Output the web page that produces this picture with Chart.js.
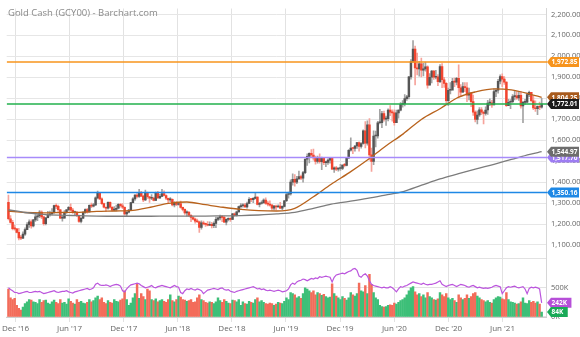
<!DOCTYPE html>
<html>
<head>
<meta charset="utf-8">
<script src="https://cdn.jsdelivr.net/npm/chart.js@4.4.0/dist/chart.umd.min.js"></script>
<style>
  html, body { margin: 0; padding: 0; background: #fff; }
  #wrap { position: relative; width: 580px; height: 337px; }
</style>
</head>
<body>
<div id="wrap"><canvas id="goldChart" width="580" height="337"></canvas></div>
<script>
// ---- data (weekly bars, Monday of each week) ----
const firstWeek = '2016-11-07';
const axisStart = '2016-11-01';
const axisEnd = '2021-10-29';

const tickDates = ['2016-12-01', '2017-06-01', '2017-12-01', '2018-06-01', '2018-12-01',
    '2019-06-01', '2019-12-01', '2020-06-01', '2020-12-01', '2021-06-01'];
const tickLabels = ["Dec '16", "Jun '17", "Dec '17", "Jun '18", "Dec '18",
    "Jun '19", "Dec '19", "Jun '20", "Dec '20", "Jun '21"];
const priceTicks = [1100, 1200, 1300, 1400, 1500, 1600, 1700, 1800, 1900, 2000, 2100, 2200];
const volumeTicks = [0, 500, 1000];

const weekClose = [
    1225,1208,1178,1177,1160,1134,1133,1152,
    1173,1197,1210,1191,1220,1234,1239,1257,1234,1202,1230,1244,1249,
    1254,1288,1284,1268,1228,1228,1254,1268,1280,1266,1254,1256,1242,
    1212,1228,1255,1269,1258,1289,1285,1291,1325,1346,1320,1297,1280,
    1275,1304,1280,1266,1270,1275,1294,1287,1280,1248,1256,1266,1302,
    1320,1338,1332,1350,1333,1315,1347,1330,1323,1324,1313,1347,1325,
    1332,1345,1336,1323,1315,1318,1291,1301,1293,1298,1279,1270,1253,
    1256,1241,1231,1223,1214,1211,1184,1206,1201,1198,1194,1199,1192,
    1203,1222,1229,1235,1232,1209,1222,1223,1222,1248,1241,1258,1283,1287,
    1290,1282,1298,1318,1316,1322,1329,1294,1298,1302,1314,1298,
    1295,1290,1276,1286,1281,1286,1276,1284,1311,1341,1344,1400,1413,
    1400,1416,1426,1419,1445,1509,1523,1537,1529,1515,1499,1515,1497,1513,
    1493,1494,1505,1514,1462,1468,1462,1465,1465,1481,1480,1515,1552,
    1562,1560,1572,1589,1570,1584,1644,1586,1673,1530,1498,1620,1620,
    1683,1683,1727,1700,1703,1743,1734,1730,1684,1730,1743,1771,1774,
    1798,1807,1902,1975,2035,1944,1940,1964,1934,1940,1950,1862,1900,
    1930,1900,1902,1879,1951,1888,1871,1788,1838,1839,1881,1877,1895,
    1850,1829,1856,1850,1814,1824,1784,1734,1699,1720,1745,1733,1728,
    1744,1777,1778,1768,1832,1838,1881,1903,1891,1877,1764,1781,1784,
    1808,1812,1802,1814,1763,1780,1781,1817,1828,1788,1754,1750,1761,
    1757,1772.01
];
const weekOpen = [
    1304,1225,1208,1178,1177,1160,1134,1133,
    1152,1173,1197,1210,1191,1220,1234,1239,1257,1234,1202,1230,1244,
    1249,1254,1288,1284,1268,1228,1228,1254,1268,1280,1266,1254,1256,
    1242,1212,1228,1255,1269,1258,1289,1285,1291,1325,1346,1320,1297,
    1280,1275,1304,1280,1266,1270,1275,1294,1287,1280,1248,1256,1266,
    1302,1320,1338,1332,1350,1333,1315,1347,1330,1323,1324,1313,1347,
    1325,1332,1345,1336,1323,1315,1318,1291,1301,1293,1298,1279,1270,
    1253,1256,1241,1231,1223,1214,1211,1184,1206,1201,1198,1194,1199,
    1192,1203,1222,1229,1235,1232,1209,1222,1223,1222,1248,1241,1258,1283,
    1287,1290,1282,1298,1318,1316,1322,1329,1294,1298,1302,1314,
    1298,1295,1290,1276,1286,1281,1286,1276,1284,1311,1341,1344,1400,
    1413,1400,1416,1426,1419,1445,1509,1523,1537,1529,1515,1499,1515,1497,
    1513,1493,1494,1505,1514,1462,1468,1462,1465,1465,1481,1480,1515,
    1552,1562,1560,1572,1589,1570,1584,1644,1586,1673,1530,1498,1620,
    1620,1683,1683,1727,1700,1703,1743,1734,1730,1684,1730,1743,1771,
    1774,1798,1807,1902,1975,2035,1944,1940,1964,1934,1940,1950,1862,
    1900,1930,1900,1902,1879,1951,1888,1871,1788,1838,1839,1881,1877,
    1895,1850,1829,1856,1850,1814,1824,1784,1734,1699,1720,1745,1733,
    1728,1744,1777,1778,1768,1832,1838,1881,1903,1891,1877,1764,1781,
    1784,1808,1812,1802,1814,1763,1780,1781,1817,1828,1788,1754,1750,
    1761,1757
];
const weekHigh = [
    1338,1240,1218,1195,1180,1180,1146,1163,
    1182,1207,1220,1220,1222,1245,1245,1264,1263,1236,1231,1260,1262,
    1274,1290,1296,1290,1270,1238,1264,1270,1283,1296,1275,1262,1260,
    1243,1230,1259,1272,1275,1292,1300,1299,1330,1357,1348,1325,1300,
    1282,1306,1306,1283,1283,1290,1298,1299,1297,1282,1262,1270,1303,
    1326,1340,1345,1366,1356,1338,1362,1352,1332,1341,1328,1352,1356,
    1342,1365,1358,1339,1324,1326,1320,1307,1307,1304,1310,1281,1272,
    1263,1261,1245,1236,1228,1223,1214,1215,1214,1204,1212,1211,1208,
    1211,1233,1233,1243,1240,1238,1225,1230,1231,1251,1253,1262,1285,1298,
    1297,1299,1305,1326,1323,1326,1346,1330,1304,1311,1320,1325,
    1310,1311,1294,1289,1290,1291,1303,1287,1313,1347,1352,1411,1439,
    1436,1427,1453,1433,1451,1512,1535,1540,1555,1557,1524,1524,1535,1519,
    1517,1500,1511,1517,1515,1473,1475,1468,1485,1482,1490,1516,1555,
    1611,1565,1575,1590,1592,1588,1649,1689,1692,1703,1562,1645,1643,
    1690,1747,1738,1739,1715,1750,1765,1745,1745,1744,1745,1779,1789,
    1818,1814,1905,1984,2075,2049,2015,1976,1992,1966,1973,1954,1917,
    1933,1933,1933,1913,1960,1965,1900,1875,1848,1875,1895,1896,1900,
    1959,1865,1875,1875,1875,1848,1828,1815,1740,1740,1755,1755,1739,
    1759,1790,1797,1790,1845,1846,1890,1912,1916,1903,1878,1795,1794,
    1818,1834,1832,1832,1832,1785,1795,1824,1834,1827,1809,1787,1764,
    1782,1800
];
const weekLow = [
    1220,1204,1172,1171,1157,1124,1125,1130,
    1146,1173,1184,1180,1186,1212,1216,1230,1225,1195,1196,1229,1237,
    1243,1250,1273,1260,1226,1214,1228,1250,1264,1262,1250,1242,1235,
    1208,1205,1225,1250,1252,1256,1278,1282,1288,1320,1316,1293,1277,
    1260,1271,1276,1262,1264,1262,1272,1280,1273,1242,1236,1253,1264,
    1301,1313,1325,1327,1331,1307,1311,1322,1303,1316,1310,1311,1322,
    1321,1330,1334,1316,1302,1306,1286,1282,1288,1290,1275,1263,1246,
    1238,1235,1211,1220,1204,1207,1160,1176,1196,1189,1191,1192,1181,
    1183,1183,1216,1220,1211,1208,1196,1215,1212,1221,1236,1237,1256,1276,
    1280,1279,1276,1297,1306,1302,1320,1291,1281,1295,1298,1293,
    1286,1285,1266,1267,1267,1280,1273,1268,1281,1307,1323,1338,1385,
    1381,1393,1411,1412,1400,1440,1480,1492,1520,1505,1485,1490,1490,1459,
    1483,1474,1484,1490,1460,1446,1455,1452,1456,1459,1472,1477,1512,
    1548,1535,1548,1560,1547,1562,1581,1563,1576,1505,1451,1483,1568,
    1610,1677,1660,1690,1670,1692,1717,1691,1671,1683,1705,1740,1757,
    1763,1790,1797,1891,1970,1863,1911,1905,1902,1906,1929,1848,1864,
    1873,1890,1892,1860,1874,1850,1852,1775,1764,1820,1852,1855,1864,
    1802,1809,1828,1831,1784,1792,1760,1718,1687,1677,1713,1722,1677,
    1719,1723,1764,1756,1768,1808,1824,1868,1855,1866,1761,1767,1750,
    1779,1792,1794,1790,1753,1684,1770,1779,1808,1782,1745,1737,1721,
    1746,1753
];
// volume and open interest, thousands of contracts
const weekVolume = [
    480,330,300,320,200,150,120,170,
    230,260,300,290,260,250,230,300,250,280,290,240,220,
    260,290,250,230,300,240,250,220,310,270,240,220,300,
    250,270,240,230,250,300,260,280,330,360,300,330,250,
    230,280,250,240,300,270,260,290,310,450,300,200,240,
    330,400,570,320,400,350,300,480,450,300,280,310,260,
    280,300,270,250,300,380,280,260,300,360,340,300,290,
    270,280,300,250,260,330,380,300,280,250,240,260,250,230,
    260,330,280,250,300,270,240,230,290,280,260,300,200,
    260,230,220,270,250,240,300,330,260,280,250,230,
    220,240,230,200,220,250,240,230,270,330,300,420,400,
    380,330,350,320,400,500,480,450,420,450,380,420,400,370,
    390,350,330,340,570,400,360,330,300,350,320,290,330,
    420,380,360,400,580,450,430,540,400,730,560,420,330,
    300,200,180,170,180,200,210,200,240,220,250,280,300,
    330,380,450,500,520,430,380,400,350,380,330,420,350,
    330,300,290,310,420,380,350,400,330,300,320,280,250,
    380,330,300,320,380,320,350,400,420,360,330,300,280,
    260,280,250,240,300,330,350,340,310,300,420,300,260,
    250,240,220,230,260,330,240,230,280,250,270,240,260,
    220,84
];
const openInterest = [
    500,470,450,420,420,400,410,420,
    430,440,420,420,430,440,430,440,420,400,410,420,430,
    440,450,430,420,430,440,440,450,430,420,410,430,440,
    450,460,470,480,490,470,480,500,560,580,550,540,540,
    550,540,520,540,550,560,550,530,450,430,480,520,550,
    560,570,580,570,540,520,500,510,520,540,510,500,520,
    530,540,530,520,510,500,520,540,520,510,420,400,450,
    480,470,490,470,460,480,470,450,400,430,460,470,480,490,
    480,470,490,500,470,460,470,440,430,420,440,450,460,
    470,480,490,500,510,520,500,480,490,470,480,460,
    450,460,450,440,450,460,450,430,440,450,480,550,580,
    560,600,620,630,650,640,620,640,660,650,670,660,690,680,
    690,700,690,680,600,680,720,730,740,750,740,760,780,
    790,820,830,800,700,680,720,740,700,620,560,540,530,
    520,510,500,510,500,500,520,500,470,430,480,520,510,
    530,540,560,580,600,590,580,570,560,580,560,550,560,
    560,570,580,600,620,560,540,520,540,550,560,540,520,
    540,560,550,540,520,510,530,540,520,500,510,500,490,
    500,490,500,510,530,540,530,520,400,450,500,520,510,
    520,530,510,500,510,520,480,400,490,510,500,510,500,
    480,242
];

// moving averages (50 and 200 week)
const maDates = ['2016-11-07', '2017-01-02', '2017-03-01', '2017-05-01', '2017-07-03', '2017-09-01',
    '2017-11-01', '2018-01-01', '2018-03-01', '2018-05-01', '2018-07-02', '2018-09-03',
    '2018-11-01', '2019-01-01', '2019-03-01', '2019-05-01', '2019-07-01', '2019-09-02',
    '2019-11-01', '2020-01-01', '2020-03-02', '2020-05-01', '2020-07-01', '2020-09-01',
    '2020-11-02', '2021-01-04', '2021-03-01', '2021-05-03', '2021-07-01', '2021-09-01', '2021-10-11'];
const ma50 = [1262, 1255, 1253, 1255, 1256, 1260, 1262, 1265, 1280, 1298, 1305, 1292,
    1280, 1270, 1264, 1262, 1275, 1330, 1390, 1445, 1505, 1570, 1630, 1700,
    1750, 1805, 1830, 1845, 1840, 1820, 1804.25];
const ma200 = [1268, 1255, 1246, 1242, 1240, 1238, 1237, 1237, 1237, 1238, 1238, 1238,
    1239, 1240, 1243, 1248, 1256, 1275, 1295, 1308, 1322, 1338, 1355, 1385,
    1415, 1440, 1462, 1485, 1508, 1532, 1544.97];

// horizontal levels
const levelValues = [1972.85, 1517.76, 1350.16, 1772.01];
const levelColors = ['#f7941d', '#a78bfa', '#1e88e5', '#22b14c'];

// ---- helpers ----
const dayNum = s => (Date.parse(s) - Date.parse(axisStart)) / 864e5;
const weekX = weekClose.map((_, i) => dayNum(firstWeek) + 7 * i);
const isUp = i => weekClose[i] >= weekOpen[i];
const fmtPrice = v => v.toLocaleString('en-US', { minimumFractionDigits: 2, maximumFractionDigits: 2 });

const tags = [
    { axis: 'y', value: 1972.85, text: fmtPrice(1972.85), color: '#f7941d', full: true },
    { axis: 'y', value: 1517.76, text: fmtPrice(1517.76), color: '#9d7cf2', full: true },
    { axis: 'y', value: 1544.97, text: fmtPrice(1544.97), color: '#6d6d6d', full: true },
    { axis: 'y', value: 1350.16, text: fmtPrice(1350.16), color: '#1e88e5', full: true },
    { axis: 'y', value: 1804.25, text: fmtPrice(1804.25), color: '#a85a1c', full: true },
    { axis: 'y', value: 1772.01, text: fmtPrice(1772.01), color: '#1b1b1b', full: true },
    { axis: 'yv', value: 242, text: '242K', color: '#b64fd8', full: false },
    { axis: 'yv', value: 84, text: '84K', color: '#19a957', full: false }
];

const tagPlugin = {
    id: 'priceTags',
    afterDraw(chart) {
        const { ctx } = chart;
        const left = chart.chartArea.right;
        ctx.save();
        ctx.font = 'bold 6.5px "Open Sans"';
        ctx.textBaseline = 'middle';
        tags.forEach(t => {
            const y = chart.scales[t.axis].getPixelForValue(t.value);
            const w = t.full ? 32 : ctx.measureText(t.text).width + 9;
            const h = 10;
            ctx.fillStyle = t.color;
            ctx.beginPath();
            ctx.moveTo(left, y);
            ctx.lineTo(left + 4, y - h / 2);
            ctx.lineTo(left + w, y - h / 2);
            ctx.lineTo(left + w, y + h / 2);
            ctx.lineTo(left + 4, y + h / 2);
            ctx.closePath();
            ctx.fill();
            ctx.fillStyle = '#fff';
            ctx.fillText(t.text, left + 4.5, y + 0.5);
        });
        ctx.restore();
    }
};

const titlePlugin = {
    id: 'chartTitle',
    afterDraw(chart) {
        const { ctx } = chart;
        ctx.save();
        ctx.font = '9.5px "Open Sans"';
        ctx.fillStyle = '#8a8a8a';
        ctx.textBaseline = 'alphabetic';
        ctx.fillText('Gold Cash (GCY00) - Barchart.com', 8, 16);
        ctx.restore();
    }
};

const levelSets = levelValues.map((v, i) => ({
    type: 'line',
    data: [{ x: 0, y: v }, { x: dayNum(axisEnd), y: v }],
    borderColor: levelColors[i],
    borderWidth: 1.5,
    pointRadius: 0,
    yAxisID: 'y',
    order: 2
}));

new Chart(document.getElementById('goldChart').getContext('2d'), {
    type: 'line',
    data: {
        datasets: [
            {
                type: 'bar',
                label: 'Wick',
                data: weekX.map((x, i) => ({ x, y: [weekLow[i], weekHigh[i]] })),
                backgroundColor: c => isUp(c.dataIndex) ? '#a3a3a3' : '#f6a39b',
                barThickness: 1,
                grouped: false,
                yAxisID: 'y',
                order: 10
            },
            {
                type: 'bar',
                label: 'Body',
                data: weekX.map((x, i) => ({ x, y: [weekOpen[i], weekClose[i]] })),
                backgroundColor: c => isUp(c.dataIndex) ? '#555555' : '#f2452f',
                barThickness: 1.8,
                minBarLength: 1,
                grouped: false,
                yAxisID: 'y',
                order: 9
            },
            {
                type: 'bar',
                label: 'Volume',
                data: weekX.map((x, i) => ({ x, y: weekVolume[i] })),
                backgroundColor: c => isUp(c.dataIndex) ? '#3dbf78' : '#f36c5a',
                barThickness: 1.8,
                grouped: false,
                yAxisID: 'yv',
                order: 8
            },
            {
                label: '200 MA',
                data: maDates.map((d, i) => ({ x: dayNum(d), y: ma200[i] })),
                borderColor: '#7c7c7c',
                borderWidth: 1.3,
                pointRadius: 0,
                cubicInterpolationMode: 'monotone',
                yAxisID: 'y',
                order: 3
            },
            {
                label: '50 MA',
                data: maDates.map((d, i) => ({ x: dayNum(d), y: ma50[i] })),
                borderColor: '#b8621c',
                borderWidth: 1.3,
                pointRadius: 0,
                cubicInterpolationMode: 'monotone',
                yAxisID: 'y',
                order: 3
            },
            ...levelSets,
            {
                label: 'Open Interest',
                data: weekX.map((x, i) => ({ x, y: openInterest[i] })),
                borderColor: '#bb55dd',
                borderWidth: 1.2,
                pointRadius: 0,
                yAxisID: 'yv',
                order: 1
            }
        ]
    },
    options: {
        responsive: false,
        animation: false,
        layout: { padding: 0 },
        plugins: {
            legend: { display: false },
            tooltip: { enabled: false }
        },
        scales: {
            x: {
                type: 'linear',
                min: 0,
                max: dayNum(axisEnd),
                offset: false,
                afterBuildTicks: s => { s.ticks = tickDates.map(d => ({ value: dayNum(d) })); },
                afterFit: s => { s.height = 20; },
                ticks: {
                    autoSkip: false,
                    maxRotation: 0,
                    padding: 2,
                    color: '#666',
                    font: { family: 'Open Sans', size: 8 },
                    callback: (v, i) => tickLabels[i]
                },
                grid: { color: '#e2e2e2', tickLength: 5, offset: false },
                border: { color: '#cfcfcf' }
            },
            y: {
                position: 'right',
                stack: 'panels',
                stackWeight: 257,
                min: 1035,
                max: 2228,
                afterBuildTicks: s => { s.ticks = priceTicks.map(v => ({ value: v })); },
                afterFit: s => { s.width = 33; },
                ticks: {
                    padding: 4,
                    color: '#666',
                    font: { family: 'Open Sans', size: 7.5 },
                    callback: v => fmtPrice(v)
                },
                grid: { color: '#e6e6e6', drawTicks: false },
                border: { color: '#d6d6d6' }
            },
            yv: {
                position: 'right',
                stack: 'panels',
                stackWeight: 60,
                min: 0,
                max: 1000,
                afterBuildTicks: s => { s.ticks = volumeTicks.map(v => ({ value: v })); },
                afterFit: s => { s.width = 33; },
                ticks: {
                    padding: 4,
                    color: '#666',
                    font: { family: 'Open Sans', size: 7.5 },
                    callback: v => v === 1000 ? '' : v + 'K'
                },
                grid: { color: '#e2e2e2', drawTicks: false },
                border: { color: '#d6d6d6' }
            }
        }
    },
    plugins: [titlePlugin, tagPlugin]
});
</script>
</body>
</html>
